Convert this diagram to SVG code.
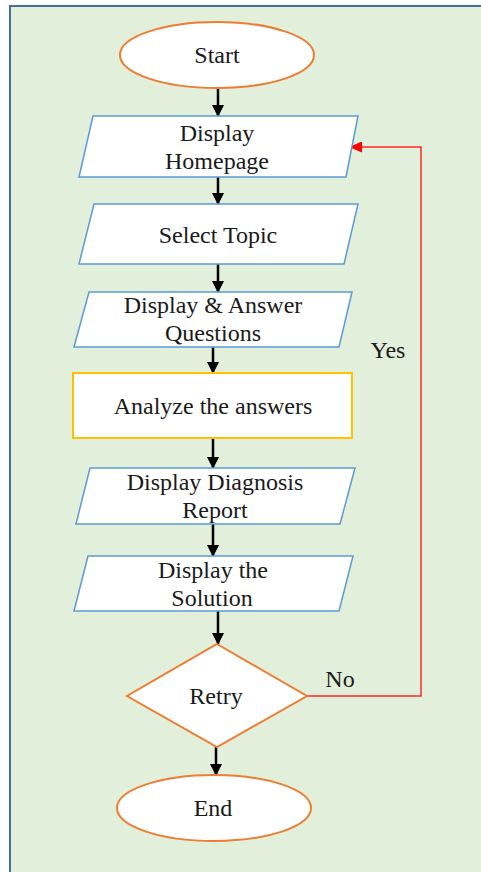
<svg xmlns="http://www.w3.org/2000/svg" width="481" height="872" viewBox="0 0 481 872">
<style>
.t{font-family:"Liberation Serif","Times New Roman",serif;font-size:24px;fill:#1a1a1a;text-anchor:middle}
.io{fill:#fff;stroke:#5B9BD5;stroke-width:1.5}
.term{fill:#fff;stroke:#ED7D31;stroke-width:2}
.proc{fill:#fff;stroke:#FFC000;stroke-width:2}
.arr{stroke:#000;stroke-width:2.5;fill:none;marker-end:url(#ah)}
.red{stroke:#FF2A2A;stroke-width:1.5;fill:none;marker-end:url(#rh)}
</style>
<defs>
<marker id="ah" markerUnits="userSpaceOnUse" markerWidth="12" markerHeight="12" viewBox="0 0 12 12" refX="11" refY="6" orient="auto">
<path d="M0,0 L12,6 L0,12 Z" fill="#000"/>
</marker>
<marker id="rh" markerUnits="userSpaceOnUse" markerWidth="13" markerHeight="11" viewBox="0 0 13 11" refX="12" refY="5.5" orient="auto">
<path d="M0,0 L13,5.5 L0,11 Z" fill="#FF0000"/>
</marker>
</defs>
<rect x="0" y="0" width="481" height="872" fill="#fff"/>
<rect x="10" y="6" width="475" height="870" fill="#E2EFDA" stroke="#41719C" stroke-width="2"/>

<g id="connectors">
<line class="arr" x1="218" y1="88" x2="218" y2="116"/>
<line class="arr" x1="218" y1="177" x2="218" y2="204"/>
<line class="arr" x1="218" y1="264" x2="218" y2="292"/>
<line class="arr" x1="213" y1="347" x2="213" y2="373"/>
<line class="arr" x1="213" y1="438" x2="213" y2="468"/>
<line class="arr" x1="213" y1="524" x2="213" y2="556"/>
<line class="arr" x1="218" y1="611" x2="218" y2="644"/>
<line class="arr" x1="216" y1="747" x2="216" y2="775"/>
<polyline class="red" points="307,696 421,696 421,147 350,147"/>
<text class="t" x="340" y="687">No</text>
<text class="t" x="388" y="358">Yes</text>
</g>

<g id="start">
<ellipse class="term" cx="217" cy="55" rx="97" ry="33"/>
<text class="t" x="217" y="63">Start</text>
</g>
<g id="homepage">
<polygon class="io" points="93,116 358,116 346,177 79,177"/>
<text class="t" x="217" y="141">Display</text>
<text class="t" x="217" y="169">Homepage</text>
</g>
<g id="topic">
<polygon class="io" points="94,204 358,204 344,264 79,264"/>
<text class="t" x="218" y="243">Select Topic</text>
</g>
<g id="questions">
<polygon class="io" points="89,292 352,292 339,347 74,347"/>
<text class="t" x="213" y="313">Display &amp; Answer</text>
<text class="t" x="213" y="341">Questions</text>
</g>
<g id="analyze">
<rect class="proc" x="73" y="373" width="279" height="65"/>
<text class="t" x="213" y="414">Analyze the answers</text>
</g>
<g id="report">
<polygon class="io" points="90,468 355,468 340,524 76,524"/>
<text class="t" x="215" y="490">Display Diagnosis</text>
<text class="t" x="215" y="518">Report</text>
</g>
<g id="solution">
<polygon class="io" points="88,556 353,556 339,611 74,611"/>
<text class="t" x="213" y="578">Display the</text>
<text class="t" x="212" y="606">Solution</text>
</g>
<g id="retry">
<polygon class="term" points="217,644 307,696 217,747 127,696"/>
<text class="t" x="216" y="704">Retry</text>
</g>
<g id="end">
<ellipse class="term" cx="214" cy="808" rx="97" ry="33"/>
<text class="t" x="213" y="816">End</text>
</g>
</svg>
